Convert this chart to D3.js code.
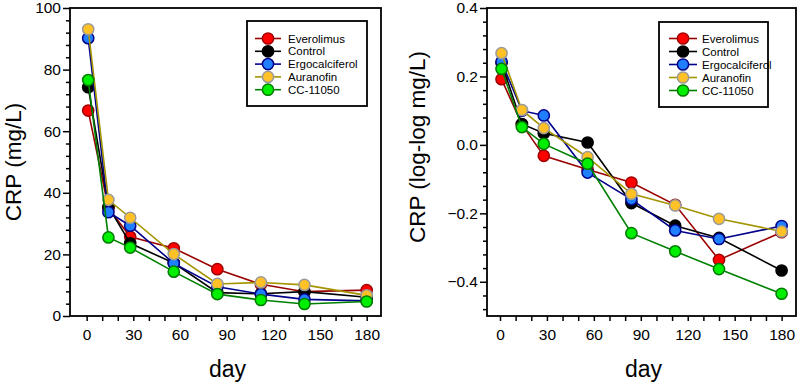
<!DOCTYPE html>
<html><head><meta charset="utf-8">
<script src="https://cdn.jsdelivr.net/npm/d3@7"></script>
<style>
html,body{margin:0;padding:0;background:#fff;}
svg text{font-family:Arial,"Liberation Sans",sans-serif;}
</style></head>
<body><svg id="c" width="800" height="387"></svg>
<script>
// ---- data ----
const days = [1, 14, 28, 56, 84, 112, 140, 180];
const seriesNames = ["Everolimus", "Control", "Ergocalciferol", "Auranofin", "CC-11050"];
// CRP (mg/L)
const crpEverolimus     = [66.7, 35.0, 25.7, 22.0, 15.2, 10.3, 7.9, 8.4];
const crpControl        = [74.3, 35.5, 23.6, 17.2, 7.6, 7.2, 7.9, 6.1];
const crpErgocalciferol = [90.2, 33.7, 29.3, 17.1, 9.5, 7.1, 5.4, 4.9];
const crpAuranofin      = [93.1, 37.7, 31.9, 20.1, 10.4, 10.9, 10.1, 6.7];
const crpCC11050        = [76.6, 25.5, 22.2, 14.4, 7.1, 5.2, 3.9, 4.7];
// CRP (log-log mg/L)
const llEverolimus      = [0.192, 0.060, -0.032, -0.072, -0.110, -0.175, -0.336, -0.255];
const llControl         = [0.240, 0.061, 0.034, 0.007, -0.170, -0.236, -0.272, -0.367];
const llErgocalciferol  = [0.243, 0.100, 0.086, -0.081, -0.159, -0.250, -0.275, -0.237];
const llAuranofin       = [0.268, 0.102, 0.049, -0.036, -0.143, -0.177, -0.216, -0.253];
const llCC11050         = [0.222, 0.052, 0.003, -0.055, -0.258, -0.311, -0.363, -0.435];
// ticks
const xTickLabels = [0, 30, 60, 90, 120, 150, 180];
const leftYTicks  = [0, 20, 40, 60, 80, 100];
const rightYTicks = [-0.4, -0.2, 0.0, 0.2, 0.4];

// ---- styles ----
const styles = [
  {fill:"#ff0000", stroke:"#a00000", line:"#990000"},
  {fill:"#000000", stroke:"#000000", line:"#000000"},
  {fill:"#1f7fff", stroke:"#00008b", line:"#00008b"},
  {fill:"#ffc125", stroke:"#9a9a9a", line:"#a39400"},
  {fill:"#00ee00", stroke:"#007a00", line:"#008000"}
];

const svg = d3.select("#c");

function panel(o){
  const g = svg.append("g");
  const x = d3.scaleLinear().domain(o.xDomain).range([o.left, o.right]);
  const y = d3.scaleLinear().domain(o.yDomain).range([o.bottom, o.top]);

  // x axis ticks (minor every 10, labelled every 30)
  const xMinor = d3.range(0, 181, 10);
  const xa = d3.axisBottom(x).tickValues(xMinor).tickSize(5)
    .tickFormat(d => xTickLabels.includes(d) ? d : "");
  const gx = g.append("g").attr("transform", `translate(0,${o.bottom})`).call(xa);
  gx.select(".domain").remove();
  gx.selectAll(".tick line").attr("stroke","#000").attr("stroke-width",1.5);
  gx.selectAll(".tick text").attr("font-size","15.5px").attr("fill","#000").attr("dy","1.05em");

  // y axis major
  const ya = d3.axisLeft(y).tickValues(o.yTicks).tickSize(7).tickFormat(o.yFormat);
  const gy = g.append("g").attr("transform", `translate(${o.left},0)`).call(ya);
  gy.select(".domain").remove();
  gy.selectAll(".tick line").attr("stroke","#000").attr("stroke-width",1.5);
  gy.selectAll(".tick text").attr("font-size","15.5px").attr("fill","#000").attr("x",-9);
  // y minor
  const ym = d3.axisLeft(y).tickValues(o.yMinor).tickSize(4).tickFormat("");
  const gym = g.append("g").attr("transform", `translate(${o.left},0)`).call(ym);
  gym.select(".domain").remove();
  gym.selectAll(".tick line").attr("stroke","#000").attr("stroke-width",1.5);

  // frame
  g.append("rect").attr("x",o.left).attr("y",o.top)
    .attr("width",o.right-o.left).attr("height",o.bottom-o.top)
    .attr("fill","none").attr("stroke","#000").attr("stroke-width",1.8);

  // series
  const line = d3.line().x((d,i)=>x(days[i])).y(d=>y(d));
  o.series.forEach((vals, si) => {
    const s = styles[si];
    const sg = g.append("g");
    sg.append("path").attr("d", line(vals)).attr("fill","none")
      .attr("stroke", s.line).attr("stroke-width",1.6);
    sg.selectAll("circle").data(vals).join("circle")
      .attr("cx",(d,i)=>x(days[i])).attr("cy",d=>y(d)).attr("r",5.6)
      .attr("fill", s.fill).attr("stroke", s.stroke).attr("stroke-width",1.5);
  });

  // legend
  const L = o.legend;
  g.append("rect").attr("x",L.x0).attr("y",L.y0).attr("width",L.x1-L.x0).attr("height",L.y1-L.y0)
    .attr("fill","#fff").attr("stroke","#000").attr("stroke-width",1.8);
  seriesNames.forEach((name, si) => {
    const s = styles[si];
    const yy = L.rowY + si*L.rowH;
    g.append("line").attr("x1",L.lx0).attr("x2",L.lx1).attr("y1",yy).attr("y2",yy)
      .attr("stroke",s.line).attr("stroke-width",1.6);
    g.append("circle").attr("cx",(L.lx0+L.lx1)/2).attr("cy",yy).attr("r",5.6)
      .attr("fill",s.fill).attr("stroke",s.stroke).attr("stroke-width",1.5);
    g.append("text").attr("x",L.tx).attr("y",yy).attr("dy","0.36em")
      .attr("font-size","11.5px").attr("fill","#000").text(name);
  });

  // axis titles
  g.append("text").attr("transform",`translate(${o.yTitleX},${o.yTitleY}) rotate(-90)`)
    .attr("text-anchor","middle").attr("font-size","22.5px").attr("fill","#000").text(o.yTitle);
  g.append("text").attr("x",(o.left+o.right)/2+2).attr("y",377)
    .attr("text-anchor","middle").attr("font-size","23px").attr("fill","#000").text("day");
}

panel({
  left:70, right:381, top:8, bottom:316,
  xDomain:[-10.7, 189.2], yDomain:[0,100],
  yTicks:leftYTicks, yMinor:d3.range(0,101,4).filter(v=>!leftYTicks.includes(v)),
  yFormat:d=>d,
  series:[crpEverolimus, crpControl, crpErgocalciferol, crpAuranofin, crpCC11050],
  legend:{x0:247, x1:367, y0:21, y1:106, lx0:255, lx1:281, tx:288, rowY:38.5, rowH:12.8},
  yTitle:"CRP (mg/L)", yTitleX:21, yTitleY:162
});

panel({
  left:487, right:796, top:8, bottom:316,
  xDomain:[-8.3, 189.2], yDomain:[-0.5,0.4],
  yTicks:rightYTicks,
  yMinor:d3.range(0,23).map(k=>+(0.4-0.04*k).toFixed(2)).filter(v=>v>=-0.5 && !rightYTicks.some(t=>Math.abs(t-v)<1e-6)),
  yFormat:d3.format(".1f"),
  series:[llEverolimus, llControl, llErgocalciferol, llAuranofin, llCC11050],
  legend:{x0:659, x1:768, y0:22, y1:107, lx0:669, lx1:697, tx:702, rowY:38.5, rowH:13},
  yTitle:"CRP (log-log mg/L)", yTitleX:425, yTitleY:147
});
</script>
</body></html>
